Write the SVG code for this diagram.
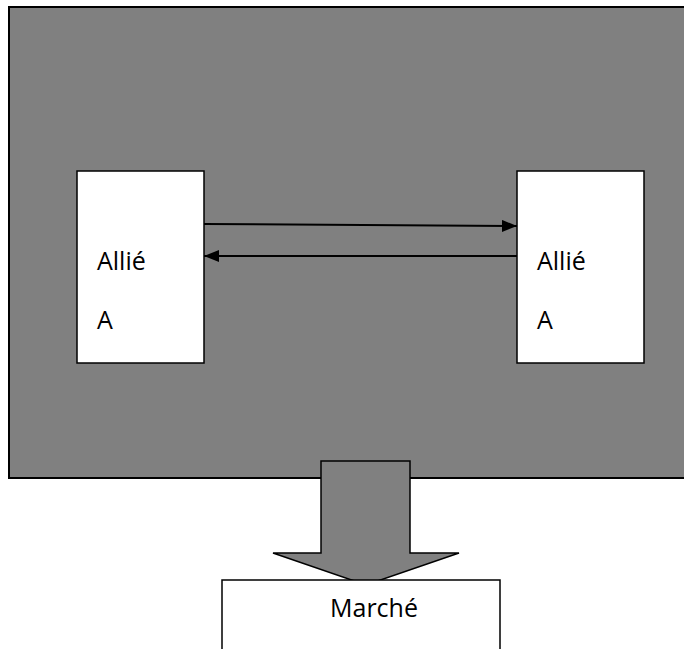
<svg xmlns="http://www.w3.org/2000/svg" width="684" height="649" viewBox="0 0 684 649">
<style>
.box{fill:#fff;stroke:#000;stroke-width:1.5}
.lbl{font-family:"Open Sans","Noto Sans",sans-serif;font-size:25px;fill:#000}
.con{stroke:#000;stroke-width:2;fill:none}
</style>
<defs>
<marker id="ah" markerUnits="userSpaceOnUse" markerWidth="16" markerHeight="12" refX="15" refY="6" orient="auto">
<path d="M0,0 L15,6 L0,12 Z" fill="#000"/>
</marker>
</defs>
<rect width="684" height="649" fill="#fff"/>
<g id="bg">
<rect x="9" y="7" width="690" height="471" fill="#808080" stroke="#000" stroke-width="2"/>
</g>
<g id="allieA1">
<rect class="box" x="77" y="171" width="127" height="192"/>
<text class="lbl" x="97" y="270">Allié</text>
<text class="lbl" x="97" y="329">A</text>
</g>
<g id="allieA2">
<rect class="box" x="517" y="171" width="127" height="192"/>
<text class="lbl" x="537" y="270">Allié</text>
<text class="lbl" x="537" y="329">A</text>
</g>
<g id="connectors">
<line class="con" x1="204" y1="224" x2="517" y2="226" marker-end="url(#ah)"/>
<line class="con" x1="517" y1="256" x2="204" y2="256" marker-end="url(#ah)"/>
</g>
<g id="bigArrow">
<path d="M321,461 L410,461 L410,553 L459,553 L366,585 L273,553 L321,553 Z" fill="#808080" stroke="#000" stroke-width="1.5"/>
</g>
<g id="marche">
<path d="M222,649 L222,580 L500,580 L500,649" fill="#fff" stroke="#000" stroke-width="1.5"/>
<text class="lbl" x="330" y="617">Marché</text>
</g>
</svg>
